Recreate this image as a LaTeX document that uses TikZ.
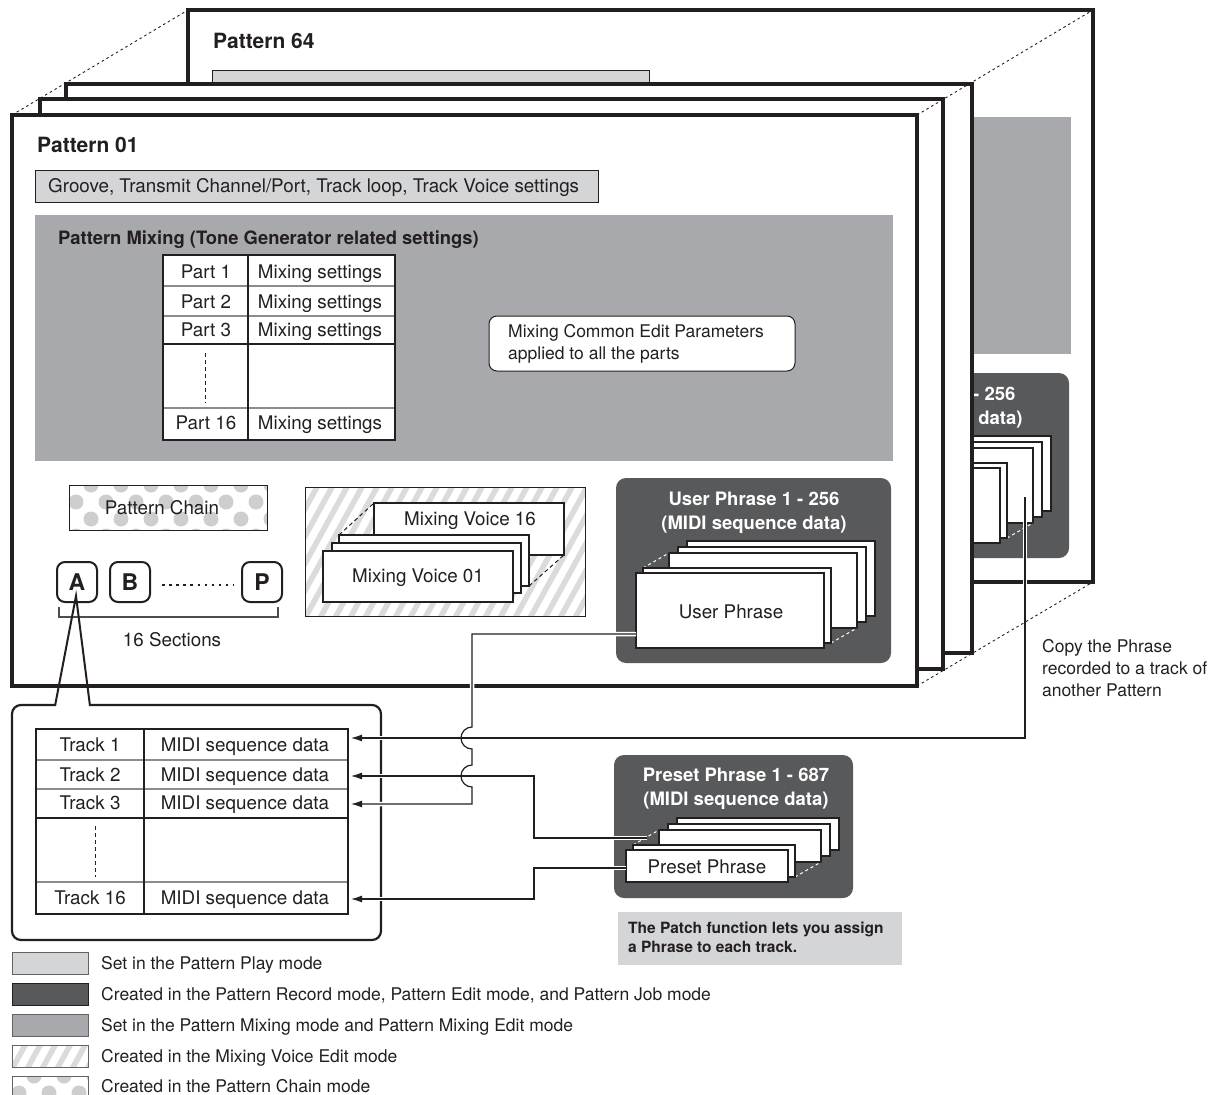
\documentclass[tikz,border=0pt]{standalone}
\usepackage{fontspec}
\setmainfont{TeX Gyre Heros}
\usetikzlibrary{arrows.meta,calc}
\definecolor{ink}{HTML}{231F20}
\definecolor{lgray}{HTML}{D4D5D7}
\definecolor{dgray}{HTML}{58595B}
\definecolor{mgray}{HTML}{A7A9AC}
\definecolor{hgray}{HTML}{DADBDC}
\definecolor{dotgray}{HTML}{CDCECF}
\definecolor{sepgray}{HTML}{8C8C8C}

\newcommand\phrasestack[4]{%
  \begin{scope}[shift={(#1,#2)}]
    \foreach \dx/\dy in {51/-32,42/-26,33/-20}
      {\path[pagebox] (\dx,\dy) rectangle ++(#3,#4);}
    \draw[wdash] (7,-5) -- (33,-20);
    \draw[wdash] ({7+#3},{-5+#4}) -- ({33+#3},{-20+#4});
    \path[pagebox] (7,-5) rectangle ++(#3,#4);
    \path[pagebox] (0,0) rectangle ++(#3,#4);
  \end{scope}}

\newcommand\hatcharea[4]{%
  \begin{scope}
    \clip (#1,#2) rectangle (#3,#4);
    \foreach \k in {-12,...,40}
      {\draw[hgray, line width=5.5pt] ({#1+\k*15},{#4+2}) -- ++({0.55*(#4-#2+4)},{-(#4-#2+4)});}
  \end{scope}}

\newcommand\dotarea[4]{%
  \begin{scope}
    \clip (#1,#2) rectangle (#3,#4);
    \foreach \r in {0,...,8}
      {\foreach \c in {0,...,12}
        {\fill[dotgray] ({#1-8+\c*30+mod(\r,2)*15},{#2+\r*17}) circle[radius=7.5];}}
  \end{scope}}

\begin{document}
\begin{tikzpicture}[x=1pt,y=-1pt,
  frame/.style={draw=ink, line width=3.2pt, fill=white},
  pagebox/.style={draw=ink, line width=1.3pt, fill=white},
  wdash/.style={white, line width=1pt, dash pattern=on 3pt off 3pt},
  kdash/.style={ink, line width=1pt, dash pattern=on 4pt off 3pt},
  persp/.style={ink, line width=0.9pt, dash pattern=on 2.5pt off 3pt},
  txt/.style={inner sep=0pt, text=ink, font=\fontsize{18.8}{22}\selectfont, text height=13pt, text depth=0pt},
  stxt/.style={inner sep=0pt, text=ink, font=\fontsize{17.5}{22}\selectfont, text height=12.5pt, text depth=0pt},
  mtxt/.style={inner sep=0pt, text=ink, align=left, anchor=base west},
  wtxt/.style={inner sep=0pt, text=white, font=\fontsize{18.5}{24}\selectfont\bfseries, align=center, anchor=base},
  keybox/.style={draw=ink, line width=2pt, rounded corners=8pt, fill=white, minimum width=40pt, minimum height=40pt, inner sep=0pt, font=\fontsize{23}{23}\selectfont\bfseries, text=ink},
  casing/.style={draw=white, line width=4.5pt},
  conn/.style={draw=ink, line width=1.2pt},
  arr/.style={-{Latex[length=11pt,width=7pt]}},
  sep/.style={draw=sepgray, line width=1.1pt}
]
\useasboundingbox (0,0) rectangle (1219,1095);

% ---------- Pattern 64 (back) ----------
\path[frame] (188,10) rectangle (1093,582);
\node[inner sep=0pt, text=ink, anchor=west, font=\fontsize{21}{24}\selectfont\bfseries, text height=15pt, text depth=0pt] (p64title) at (213,41) {Pattern 64};
\path[fill=lgray, draw=ink, line width=1pt] (212,70) rectangle (649,95);
\path[fill=mgray] (800,117) rectangle (1071,354);
\path[fill=dgray, rounded corners=10pt] (794,373) rectangle (1069,558);
\node[wtxt] (p64up) at (930,424.5) {User Phrase 1 - 256\\(MIDI sequence data)};
\phrasestack{812}{468}{188}{75}
\coordinate (cpS) at (1025,497);

% ---------- intermediate frames ----------
\path[frame] (66,84) rectangle (972,653);
\path[frame] (40,99) rectangle (943,669);

% ---------- Pattern 01 ----------
\path[frame] (12,115) rectangle (917,686);
\node[inner sep=0pt, text=ink, anchor=west, font=\fontsize{21}{24}\selectfont\bfseries, text height=15pt, text depth=0pt] (p01title) at (37,145) {Pattern 01};
\path[fill=lgray, draw=ink, line width=1pt] (35,170) rectangle (598,202);
\node[txt, anchor=west] (groove) at (48,186) {Groove, Transmit Channel/Port, Track loop, Track Voice settings};

\path[fill=mgray] (35,215) rectangle (893,461);
\node[inner sep=0pt, text=ink, anchor=west, font=\fontsize{18.4}{22}\selectfont\bfseries, text height=13pt, text depth=0pt] (mixtitle) at (58,238) {Pattern Mixing (Tone Generator related settings)};

% parts table
\path[fill=white] (163,255) rectangle (395,440);
\draw[sep] (163,286) -- (395,286) (163,316) -- (395,316) (163,408) -- (395,408);
\draw[ink, line width=1.1pt] (163,344) -- (395,344);
\draw[ink, line width=1.1pt] (248,255) -- (248,440);
\draw[ink, line width=1.2pt] (163,255) rectangle (395,440);
\draw[kdash] (205,353) -- (205,403);
\node[txt] (pa1) at (206,272) {Part 1};
\node[txt] (ms1) at (320,272) {Mixing settings};
\node[txt] (pa2) at (206,302) {Part 2};
\node[txt] (ms2) at (320,302) {Mixing settings};
\node[txt] (pa3) at (206,330) {Part 3};
\node[txt] (ms3) at (320,330) {Mixing settings};
\node[txt] (pa16) at (206,423) {Part 16};
\node[txt] (ms16) at (320,423) {Mixing settings};

% mixing common
\path[draw=ink, line width=1pt, fill=white, rounded corners=8pt] (489,316) rectangle (795,371);
\node[mtxt, font=\fontsize{17.5}{22}\selectfont] (mcp) at (508,359) {Mixing Common Edit Parameters\\applied to all the parts};

% pattern chain
\path[fill=white] (69,485) rectangle (267,530);
\dotarea{69}{485}{267}{530}
\draw[ink, line width=1pt] (69,485) rectangle (267,530);
\node[txt] (pchain) at (162,508) {Pattern Chain};

% sections
\node[keybox] (kA) at (77,582) {A};
\node[keybox] (kB) at (130,582) {B};
\node[keybox] (kP) at (262,582) {P};
\draw[ink, line width=2.5pt, dash pattern=on 2.5pt off 4.6pt] ($(kB.east)+(11,3)$) -- ($(kP.west)+(-7,3)$);
\draw[ink!80, line width=1.3pt] (59,607) -- (59,617) -- (278,617) -- (278,607);
\node[txt] (secs) at (172,640) {16 Sections};

% mixing voice
\path[fill=white] (305,487) rectangle (585,616);
\hatcharea{305}{487}{585}{616}
\draw[ink, line width=1pt] (305,487) rectangle (585,616);
\path[pagebox] (374,503) rectangle (564,555);
\node[txt] (mv16) at (470,519) {Mixing Voice 16};
\draw[kdash] (339,535) -- (374,503);
\draw[kdash] (529,586) -- (564,555);
\path[pagebox] (339,535) rectangle (529,586);
\path[pagebox] (332,543) rectangle (521,593);
\path[pagebox] (323,551) rectangle (513,602);
\node[txt] (mv01) at (418,576) {Mixing Voice 01};

% user phrase
\path[fill=dgray, rounded corners=10pt] (616,478) rectangle (891,663);
\node[wtxt] (uptitle) at (754,529.5) {User Phrase 1 - 256\\(MIDI sequence data)};
\phrasestack{636}{573}{188}{75}
\node[txt] (uplabel) at (731,612) {User Phrase};
\coordinate (upS) at (636,634);

% ---------- callout and track box ----------
\coordinate (wtip) at (76,596);
\draw[ink, line width=2pt] (55,706) -- (wtip) -- (90,706);
\draw[ink, line width=2.2pt, rounded corners=9pt] (55,705) -- (12,705) -- (12,940) -- (381,940) -- (381,705) -- (90,705);

\path[fill=white] (36,729) rectangle (348,914);
\draw[sep] (36,760) -- (348,760) (36,789) -- (348,789) (36,882) -- (348,882);
\draw[ink, line width=1.1pt] (36,818) -- (348,818);
\draw[ink, line width=1.1pt] (144,729) -- (144,914);
\draw[ink, line width=1.2pt] (36,729) rectangle (348,914);
\draw[kdash] (95,826) -- (95,877);
\node[txt] (tk1) at (90,745) {Track 1};
\node[txt] (md1) at (245,745) {MIDI sequence data};
\node[txt] (tk2) at (90,775) {Track 2};
\node[txt] (md2) at (245,775) {MIDI sequence data};
\node[txt] (tk3) at (90,803) {Track 3};
\node[txt] (md3) at (245,803) {MIDI sequence data};
\node[txt] (tk16) at (90,898) {Track 16};
\node[txt] (md16) at (245,898) {MIDI sequence data};
\coordinate (t1) at (351,738);
\coordinate (t2) at (351,776);
\coordinate (t3) at (351,804);
\coordinate (t16) at (351,899);

% ---------- preset phrase ----------
\path[fill=dgray, rounded corners=10pt] (614,755) rectangle (853,898);
\node[wtxt] (prtitle) at (736,805.5) {Preset Phrase 1 - 687\\(MIDI sequence data)};
\phrasestack{626}{850}{162}{32}
\node[txt] (prlabel) at (707,867) {Preset Phrase};
\coordinate (prS) at (626,868);
\coordinate (pmS) at (647,838);

\path[fill=lgray] (618,912) rectangle (902,965);
\node[mtxt, font=\fontsize{15.5}{19}\selectfont\bfseries] (patch) at (628,952.5) {The Patch function lets you assign\\a Phrase to each track.};

\node[mtxt, font=\fontsize{17.5}{22}\selectfont] (copytxt) at (1042,696) {Copy the Phrase\\recorded to a track of\\another Pattern};

% ---------- connectors ----------
\path[casing] (cpS) |- (t1);
\path[casing] (upS) -- (472,634) -- (472,727) arc[start angle=-90,end angle=-270,radius=11] -- (472,765) arc[start angle=-90,end angle=-270,radius=11] -- (472,804) -- (t3);
\path[casing] (pmS) -- (534,838) |- (t2);
\path[casing] (prS) -- (534,868) |- (t16);
\draw[conn,arr] (cpS) |- (t1);
\draw[conn,arr] (upS) -- (472,634) -- (472,727) arc[start angle=-90,end angle=-270,radius=11] -- (472,765) arc[start angle=-90,end angle=-270,radius=11] -- (472,804) -- (t3);
\draw[conn,arr] (pmS) -- (534,838) |- (t2);
\draw[conn,arr] (prS) -- (534,868) |- (t16);

% ---------- perspective lines ----------
\draw[persp] (12,115) -- (188,10);
\draw[persp] (917,115) -- (1093,10);
\draw[persp] (917,686) -- (1093,582);

% ---------- legend ----------
\path[fill=lgray, draw=ink!70, line width=0.8pt] (12,952) rectangle (88,974);
\path[fill=dgray, draw=ink, line width=0.8pt] (12,983) rectangle (88,1005);
\path[fill=mgray, draw=ink!70, line width=0.8pt] (12,1014) rectangle (88,1036);
\path[fill=white] (12,1045) rectangle (88,1067);
\hatcharea{12}{1045}{88}{1067}
\draw[ink!70, line width=0.8pt] (12,1045) rectangle (88,1067);
\path[fill=white] (12,1076) rectangle (88,1098);
\dotarea{12}{1076}{88}{1098}
\draw[ink!70, line width=0.8pt] (12,1076) rectangle (88,1098);
\node[stxt, anchor=west] (lg1) at (101,963) {Set in the Pattern Play mode};
\node[stxt, anchor=west] (lg2) at (101,994) {Created in the Pattern Record mode, Pattern Edit mode, and Pattern Job mode};
\node[stxt, anchor=west] (lg3) at (101,1025) {Set in the Pattern Mixing mode and Pattern Mixing Edit mode};
\node[stxt, anchor=west] (lg4) at (101,1056) {Created in the Mixing Voice Edit mode};
\node[stxt, anchor=west] (lg5) at (101,1086) {Created in the Pattern Chain mode};
\end{tikzpicture}
\end{document}
